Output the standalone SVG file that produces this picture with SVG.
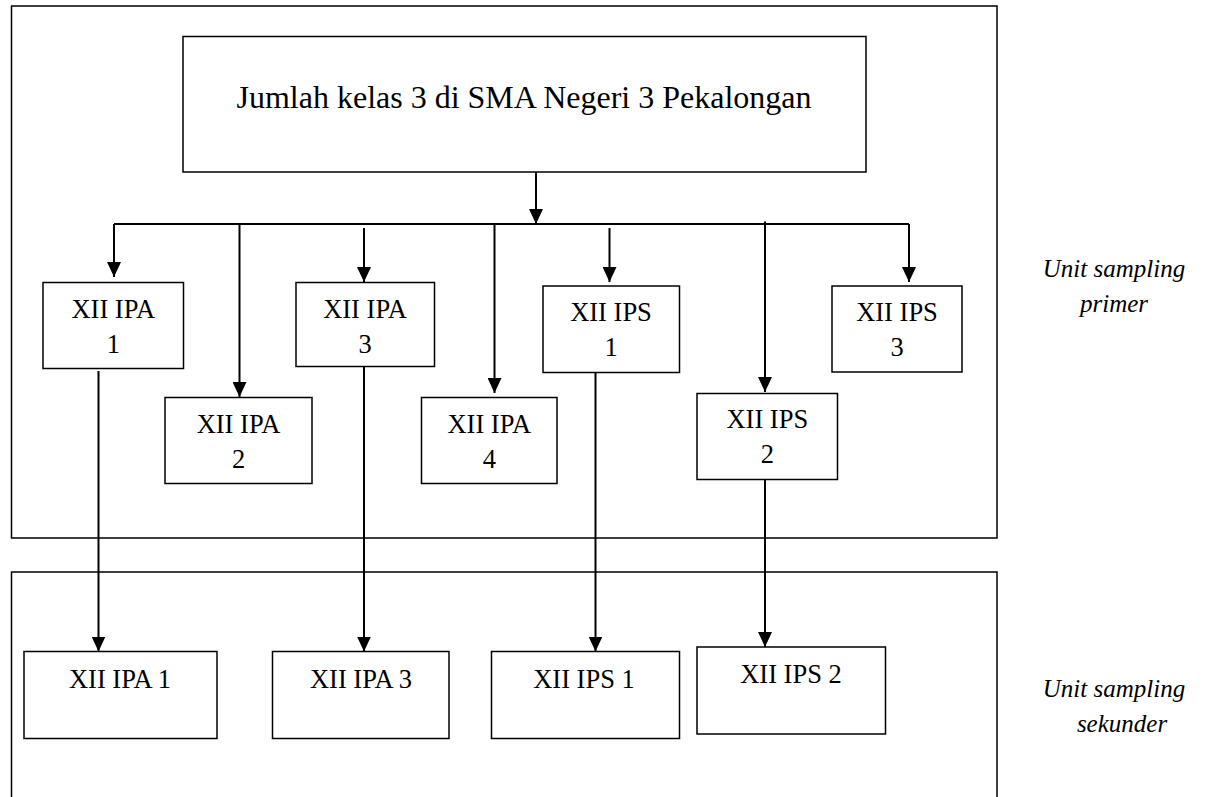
<svg xmlns="http://www.w3.org/2000/svg" width="1208" height="797" viewBox="0 0 1208 797">
  <style>
    .frame { fill: none; stroke: #000; stroke-width: 1.5; }
    .box { fill: #fff; stroke: #000; stroke-width: 1.5; }
    .t { font-family: "Liberation Serif", "Times New Roman", serif; font-size: 26.5px; fill: #000; text-anchor: middle; }
    .title { font-family: "Liberation Serif", "Times New Roman", serif; font-size: 32px; fill: #000; text-anchor: middle; }
    .lbl { font-family: "Liberation Serif", "Times New Roman", serif; font-size: 25px; font-style: italic; fill: #000; text-anchor: middle; }
    .c { fill: none; stroke: #000; stroke-width: 2; }
    .ca { fill: none; stroke: #000; stroke-width: 2; marker-end: url(#ah); }
  </style>
  <defs>
    <marker id="ah" viewBox="0 0 15 14" refX="15" refY="7" markerWidth="15" markerHeight="14" markerUnits="userSpaceOnUse" orient="auto">
      <path d="M0,0 L15,7 L0,14 z" fill="#000"/>
    </marker>
  </defs>

  <g id="frame-primer">
    <rect class="frame" x="11.5" y="6" width="985.5" height="532"/>
  </g>
  <g id="frame-sekunder">
    <rect class="frame" x="11.5" y="572" width="985.5" height="240"/>
  </g>

  <g id="label-primer">
    <text class="lbl" x="1114" y="277">Unit sampling</text>
    <text class="lbl" x="1114" y="312">primer</text>
  </g>
  <g id="label-sekunder">
    <text class="lbl" x="1114" y="697">Unit sampling</text>
    <text class="lbl" x="1122" y="732">sekunder</text>
  </g>

  <g id="connectors">
    <path class="ca" d="M536,172 V224"/>
    <path class="c" d="M114,224 H909"/>
    <path class="ca" d="M114,224 V277"/>
    <path class="ca" d="M239.5,224 V397"/>
    <path class="ca" d="M364,228 V282"/>
    <path class="ca" d="M494.5,224 V393"/>
    <path class="ca" d="M609.5,228 V282"/>
    <path class="ca" d="M765,221.5 V392"/>
    <path class="ca" d="M909,224 V282"/>
    <path class="ca" d="M98.5,371 V651.5"/>
    <path class="ca" d="M364,367 V651.5"/>
    <path class="ca" d="M595.5,372 V651.5"/>
    <path class="ca" d="M765,479 V647"/>
  </g>

  <g id="node-title">
    <rect class="box" x="183" y="36.5" width="683" height="135.5"/>
    <text class="title" x="524" y="108">Jumlah kelas 3 di SMA Negeri 3 Pekalongan</text>
  </g>

  <g id="node-ipa1">
    <rect class="box" x="43" y="282.5" width="140.5" height="86"/>
    <text class="t" x="113.3" y="318.3">XII IPA</text>
    <text class="t" x="113.3" y="353.3">1</text>
  </g>
  <g id="node-ipa2">
    <rect class="box" x="165" y="397.5" width="147" height="86"/>
    <text class="t" x="238.5" y="433.3">XII IPA</text>
    <text class="t" x="238.5" y="468.3">2</text>
  </g>
  <g id="node-ipa3">
    <rect class="box" x="296" y="282.5" width="138.5" height="84"/>
    <text class="t" x="365" y="318.3">XII IPA</text>
    <text class="t" x="365" y="353.3">3</text>
  </g>
  <g id="node-ipa4">
    <rect class="box" x="421.5" y="397.5" width="135.5" height="86"/>
    <text class="t" x="489.3" y="433.3">XII IPA</text>
    <text class="t" x="489.3" y="468.3">4</text>
  </g>
  <g id="node-ips1">
    <rect class="box" x="543" y="286" width="136.5" height="86.5"/>
    <text class="t" x="611" y="320.7">XII IPS</text>
    <text class="t" x="611" y="356">1</text>
  </g>
  <g id="node-ips2">
    <rect class="box" x="697" y="393.5" width="140.5" height="86"/>
    <text class="t" x="767.3" y="427.7">XII IPS</text>
    <text class="t" x="767.3" y="463.3">2</text>
  </g>
  <g id="node-ips3">
    <rect class="box" x="832" y="286" width="130" height="86"/>
    <text class="t" x="897" y="320.7">XII IPS</text>
    <text class="t" x="897" y="356">3</text>
  </g>

  <g id="node-s-ipa1">
    <rect class="box" x="24" y="651.5" width="193" height="87"/>
    <text class="t" x="120" y="688">XII IPA 1</text>
  </g>
  <g id="node-s-ipa3">
    <rect class="box" x="272.5" y="651.5" width="176.5" height="87"/>
    <text class="t" x="361" y="688">XII IPA 3</text>
  </g>
  <g id="node-s-ips1">
    <rect class="box" x="491.5" y="651.5" width="188" height="87"/>
    <text class="t" x="584" y="688">XII IPS 1</text>
  </g>
  <g id="node-s-ips2">
    <rect class="box" x="697" y="647" width="188.5" height="87"/>
    <text class="t" x="791" y="683">XII IPS 2</text>
  </g>
</svg>
